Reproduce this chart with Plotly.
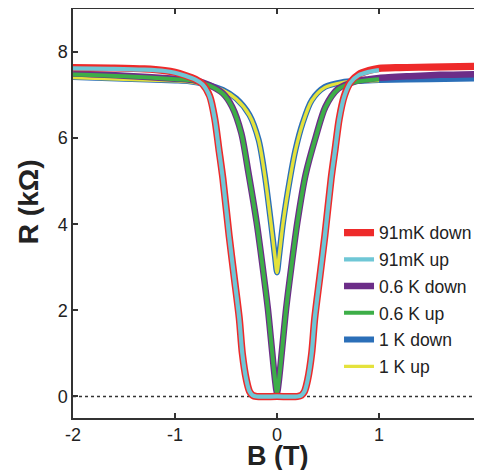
import plotly.graph_objects as go

# field sweep values (B in tesla, R in kOhm)
b_91mk_down = [-2.0, -1.6, -1.3, -1.1, -1.0, -0.9, -0.8, -0.73, -0.66, -0.61, -0.57, -0.53, -0.47,
               -0.42, -0.37, -0.34, -0.30, -0.27, -0.24, -0.20, 0.0, 0.20, 0.24, 0.27, 0.30, 0.34,
               0.37, 0.42, 0.47, 0.53, 0.57, 0.61, 0.66, 0.72, 0.80, 0.90, 1.0, 1.2, 1.5, 2.0]
r_91mk_down = [7.64, 7.63, 7.61, 7.57, 7.53, 7.46, 7.37, 7.26, 6.98, 6.45, 5.75, 5.05, 3.75,
               2.78, 1.82, 1.0, 0.38, 0.12, 0.03, 0.0, 0.0, 0.0, 0.03, 0.12, 0.38, 1.0,
               1.82, 2.78, 3.75, 5.05, 5.75, 6.45, 6.98, 7.3, 7.48, 7.57, 7.62, 7.64, 7.65, 7.67]

b_91mk_up = [-2.0, -1.6, -1.3, -1.1, -1.0, -0.9, -0.8, -0.73, -0.66, -0.61, -0.57, -0.53, -0.47,
             -0.42, -0.37, -0.34, -0.30, -0.27, -0.24, -0.20, 0.0, 0.20, 0.24, 0.27, 0.30, 0.34,
             0.37, 0.42, 0.47, 0.53, 0.57, 0.61, 0.66, 0.72, 0.80, 0.90, 1.0]
r_91mk_up = [7.62, 7.61, 7.59, 7.56, 7.52, 7.45, 7.36, 7.25, 6.97, 6.44, 5.74, 5.04, 3.74,
             2.77, 1.81, 1.0, 0.38, 0.12, 0.03, 0.0, 0.0, 0.0, 0.03, 0.12, 0.38, 1.0,
             1.81, 2.77, 3.74, 5.04, 5.74, 6.44, 6.97, 7.29, 7.46, 7.54, 7.58]

b_06k_down = [-2.0, -1.5, -1.0, -0.8, -0.66, -0.53, -0.44, -0.35, -0.28, -0.20, -0.14, -0.09,
              -0.05, -0.02, 0.0, 0.02, 0.05, 0.09, 0.14, 0.20, 0.28, 0.38, 0.475, 0.60, 0.77,
              0.90, 1.0, 1.3, 1.6, 2.0]
r_06k_down = [7.5, 7.45, 7.38, 7.34, 7.23, 7.04, 6.73, 6.12, 5.2, 4.05, 3.0, 2.05,
              1.1, 0.4, 0.08, 0.4, 1.1, 2.05, 3.0, 4.05, 5.15, 6.03, 6.73, 7.15, 7.32,
              7.37, 7.4, 7.44, 7.47, 7.49]

b_06k_up = [-2.0, -1.5, -1.0, -0.8, -0.66, -0.53, -0.44, -0.35, -0.28, -0.20, -0.14, -0.09,
            -0.05, -0.02, 0.0, 0.02, 0.05, 0.09, 0.14, 0.20, 0.28, 0.38, 0.475, 0.60, 0.77,
            0.90, 1.0]
r_06k_up = [7.48, 7.44, 7.37, 7.33, 7.22, 7.03, 6.72, 6.11, 5.19, 4.04, 2.99, 2.04,
            1.09, 0.4, 0.08, 0.4, 1.09, 2.04, 2.99, 4.04, 5.14, 6.02, 6.72, 7.14, 7.3,
            7.35, 7.37]

b_1k_down = [-2.0, -1.5, -1.0, -0.86, -0.70, -0.53, -0.40, -0.27, -0.18, -0.12, -0.06, -0.02,
             0.0, 0.02, 0.06, 0.13, 0.18, 0.25, 0.34, 0.47, 0.64, 0.80, 1.0, 1.5, 2.0]
r_1k_down = [7.42, 7.38, 7.34, 7.32, 7.25, 7.12, 6.92, 6.54, 5.96, 5.15, 4.05, 3.25,
             2.88, 3.25, 4.05, 5.1, 5.72, 6.34, 6.88, 7.19, 7.3, 7.33, 7.35, 7.37, 7.39]

b_1k_up = [-2.0, -1.5, -1.0, -0.86, -0.70, -0.53, -0.40, -0.27, -0.18, -0.12, -0.06, -0.02,
           0.0, 0.02, 0.06, 0.13, 0.18, 0.25, 0.34, 0.47, 0.64, 0.80, 1.0]
r_1k_up = [7.41, 7.37, 7.33, 7.31, 7.24, 7.11, 6.91, 6.53, 5.95, 5.14, 4.04, 3.24,
           2.88, 3.24, 4.04, 5.09, 5.71, 6.33, 6.87, 7.18, 7.29, 7.32, 7.34]

b_baseline = [-2.0, 2.0]
r_baseline = [0.0, 0.0]

b_ticks = [-2, -1, 0, 1, 2]
b_ticktext = ["-2", "-1", "0", "1", "2"]
r_ticks = [0, 2, 4, 6, 8]

font = "Arial, Liberation Sans, sans-serif"
ink = "#222222"

# drawn bottom to top; rank keeps the legend in the published order
traces = [
    ("1 K down", b_1k_down, r_1k_down, "#2b6fb8", 6, 5),
    ("1 K up", b_1k_up, r_1k_up, "#e4e23c", 3.4, 6),
    ("0.6 K down", b_06k_down, r_06k_down, "#6c2d88", 6.5, 3),
    ("0.6 K up", b_06k_up, r_06k_up, "#3dae48", 4, 4),
    ("91mK down", b_91mk_down, r_91mk_down, "#ee2a2a", 7.2, 1),
    ("91mK up", b_91mk_up, r_91mk_up, "#6fc7d6", 4.2, 2),
]

fig = go.Figure()

fig.add_trace(go.Scatter(x=b_baseline, y=r_baseline, mode="lines",
                         line=dict(color="#333333", width=1.5, dash="dot"),
                         showlegend=False, hoverinfo="skip"))

for name, b, r, color, width, rank in traces:
    fig.add_trace(go.Scatter(x=b, y=r, mode="lines", name=name,
                             line=dict(color=color, width=width, shape="spline", smoothing=0.8),
                             legendrank=rank, legendgroup=name))

axis_style = dict(showline=True, linecolor="#333333", linewidth=1.5, mirror="ticks",
                  ticks="inside", ticklen=5, tickwidth=1.5, tickcolor="#333333",
                  showgrid=False, zeroline=False, ticklabeloverflow="allow",
                  tickfont=dict(family=font, size=18, color=ink))

fig.update_xaxes(range=[-2, 2], tickvals=b_ticks, ticktext=b_ticktext, **axis_style)
fig.update_yaxes(range=[-0.5, 9], tickvals=r_ticks, **axis_style)

# axis titles placed as annotations to sit where the original has them
fig.add_annotation(text="<b>B (T)</b>", xref="paper", yref="paper", x=0.5, y=-0.093,
                   xanchor="center", yanchor="middle", showarrow=False,
                   font=dict(family=font, size=27, color=ink))
fig.add_annotation(text="<b>R (kΩ)</b>", xref="paper", yref="paper", x=-0.11, y=0.528,
                   xanchor="center", yanchor="middle", showarrow=False, textangle=-90,
                   font=dict(family=font, size=28, color=ink))

# the page body adds an 8px offset, so the figure is sized to the window minus that
fig.update_layout(
    width=474, height=462,
    margin=dict(l=65, r=1, t=1, b=52, autoexpand=False),
    plot_bgcolor="white", paper_bgcolor="white",
    legend=dict(x=0.652, y=0.497, xanchor="left", yanchor="top",
                bgcolor="rgba(0,0,0,0)", borderwidth=0, tracegroupgap=1,
                font=dict(family=font, size=17.5, color=ink)),
)

fig.write_html("out.html")
